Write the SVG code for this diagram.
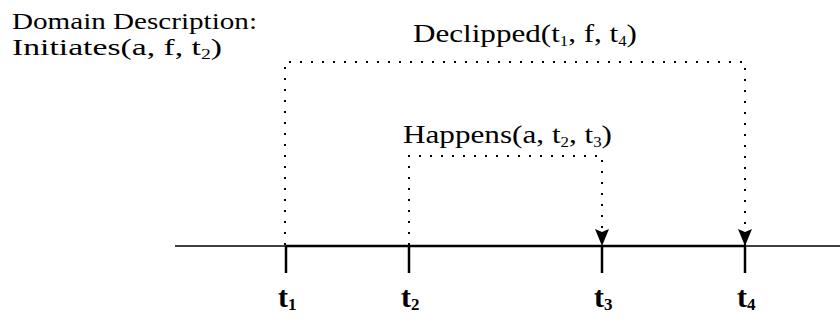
<svg xmlns="http://www.w3.org/2000/svg" width="840" height="320" viewBox="0 0 840 320">
<style>
text{font-family:"Liberation Serif","Times New Roman",serif;fill:#000}
.lbl{font-size:24px}
.big{font-size:26px}
.tk{font-size:30px;font-weight:bold}
.sub{font-size:14px}
.tsub{font-size:17px}
.dot{fill:none;stroke:#000;stroke-width:2;stroke-dasharray:2 9}
.axis{stroke:#000;fill:none}
</style>
<defs>
<marker id="ah" markerWidth="17" markerHeight="14" refX="17" refY="7" orient="auto" markerUnits="userSpaceOnUse" viewBox="0 0 17 14">
<path d="M0,0 L3,7 L0,14 L17,7 Z" fill="#000"/>
</marker>
</defs>
<rect width="840" height="320" fill="#fff"/>
<g id="description">
<text class="lbl" x="12" y="29" textLength="245" lengthAdjust="spacingAndGlyphs">Domain Description:</text>
<text class="lbl" x="12" y="55" textLength="210" lengthAdjust="spacingAndGlyphs">Initiates(a, f, t<tspan class="sub" dy="4">2</tspan><tspan dy="-4">)</tspan></text>
</g>
<g id="timeline">
<line class="axis" x1="175" y1="246" x2="840" y2="246" stroke-width="1.5"/>
<line class="axis" x1="286" y1="246" x2="745" y2="246" stroke-width="2.5"/>
<line class="axis" x1="286" y1="246" x2="286" y2="273" stroke-width="2.5"/>
<line class="axis" x1="409" y1="246" x2="409" y2="273" stroke-width="2.5"/>
<line class="axis" x1="602" y1="246" x2="602" y2="273" stroke-width="2.5"/>
<line class="axis" x1="745" y1="246" x2="745" y2="273" stroke-width="2.5"/>
</g>
<g id="t1"><text class="tk" x="278" y="307">t<tspan class="tsub" dy="3">1</tspan></text></g>
<g id="t2"><text class="tk" x="401" y="307">t<tspan class="tsub" dy="3">2</tspan></text></g>
<g id="t3"><text class="tk" x="594" y="307">t<tspan class="tsub" dy="3">3</tspan></text></g>
<g id="t4"><text class="tk" x="737" y="307">t<tspan class="tsub" dy="3">4</tspan></text></g>
<g id="declipped">
<text class="big" x="413" y="42" textLength="224" lengthAdjust="spacingAndGlyphs">Declipped(t<tspan class="sub" dy="4">1</tspan><tspan dy="-4">, f, t</tspan><tspan class="sub" dy="4">4</tspan><tspan dy="-4">)</tspan></text>
</g>
<g id="happens">
<text class="big" x="403" y="143" textLength="209" lengthAdjust="spacingAndGlyphs">Happens(a, t<tspan class="sub" dy="4">2</tspan><tspan dy="-4">, t</tspan><tspan class="sub" dy="4">3</tspan><tspan dy="-4">)</tspan></text>
</g>
<g id="connectors">
<path class="dot" d="M285,245 L285,62 L745,62 L745,246" marker-end="url(#ah)"/>
<path class="dot" d="M409,245 L409,156 L602,156 L602,246" marker-end="url(#ah)"/>
</g>
</svg>
